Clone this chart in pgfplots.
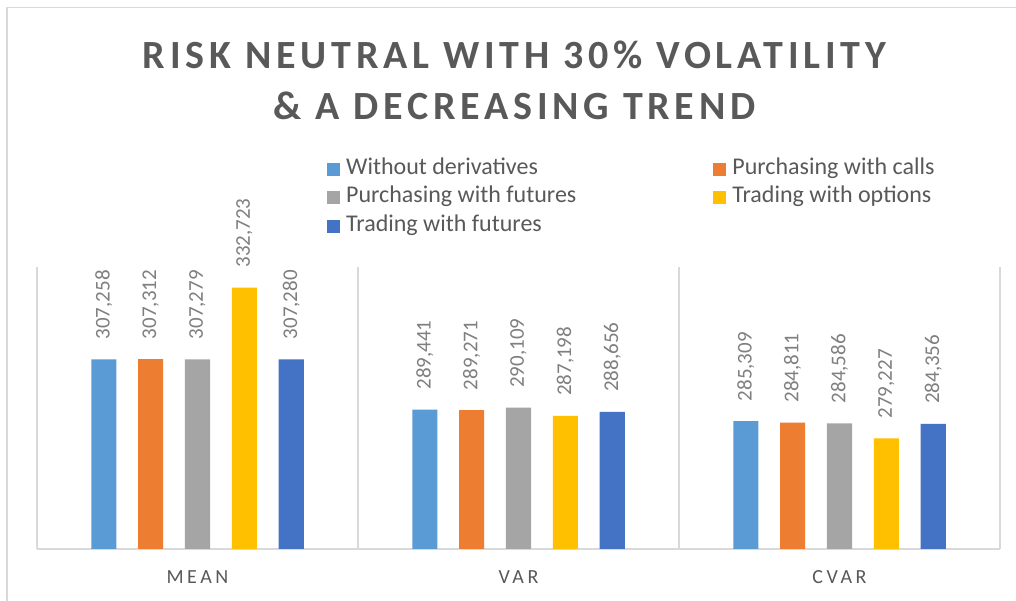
\documentclass[border=0pt]{standalone}
\usepackage{fontspec}
\setmainfont{Carlito}
\usepackage{pgfplots}
\pgfplotsset{compat=1.18}
\definecolor{c1}{HTML}{5B9BD5}
\definecolor{c2}{HTML}{ED7D31}
\definecolor{c3}{HTML}{A5A5A5}
\definecolor{c4}{HTML}{FFC000}
\definecolor{c5}{HTML}{4472C4}
\definecolor{txt}{HTML}{595959}
\definecolor{lbl}{HTML}{7F7F7F}
\definecolor{gridc}{HTML}{D9D9D9}
\pgfplotsset{
  sq/.style={legend image code/.code={\fill[##1,draw=none] (0bp,-6.5bp) rectangle (13bp,6.5bp);}}
}
\begin{document}
\begin{tikzpicture}[x=1bp,y=1bp]
\fill[white] (0,0) rectangle (1016,601);
\path[use as bounding box] (0,0) rectangle (1016,601);
\draw[gridc, line width=1.5bp] (7,0) -- (7,593.5) -- (1016,593.5);
\node[txt, anchor=base, inner sep=0pt, font=\fontsize{40bp}{51bp}\selectfont\bfseries\addfontfeature{LetterSpace=12}] at (514.5,532) {RISK NEUTRAL WITH 30\% VOLATILITY};
\node[txt, anchor=base, inner sep=0pt, font=\fontsize{40bp}{51bp}\selectfont\bfseries\addfontfeature{LetterSpace=12}] at (514.5,481) {\& A DECREASING TREND};
\begin{axis}[
  at={(37bp,52bp)}, anchor=south west, scale only axis,
  width=963bp, height=282bp,
  xmin=-0.5, xmax=2.5, ymin=240000, ymax=340000,
  axis y line=none, axis x line=bottom,
  x axis line style={-, draw=gridc, line width=1.3bp},
  xtick={0,1,2}, xticklabels={MEAN,VAR,CVAR},
  major tick length=0pt,
  minor xtick={-0.5,0.5,1.5,2.5}, xminorgrids,
  minor grid style={draw=gridc, line width=1.3bp},
  minor tick length=0pt,
  xticklabel style={anchor=base, yshift=-35bp, text=txt, font=\fontsize{20bp}{24bp}\selectfont\addfontfeature{LetterSpace=17.7}},
  ybar, bar width=0.078,
  nodes near coords={\pgfmathprintnumber[fixed, precision=0, 1000 sep={,}, assume math mode=true]{\pgfplotspointmeta}},
  every node near coord/.append style={rotate=90, anchor=west, inner sep=0pt, outer xsep=20bp, text=lbl, font=\fontsize{21bp}{25bp}\selectfont},
  legend columns=2,
  legend cell align=left,
  legend style={at={(0.3011,1.383)}, anchor=north west, draw=none, fill=none, inner sep=0pt,
    font=\fontsize{24bp}{28bp}\selectfont, text=txt, row sep=8.7bp,
    /tikz/every even column/.append style={column sep=131bp},
    nodes={inner sep=0pt, inner xsep=6bp, text height=15bp, text depth=5bp}},
]
\addplot[fill=c1, draw=none, bar shift=-0.292, sq] coordinates {(0,307258) (1,289441) (2,285309)};
\addplot[fill=c2, draw=none, bar shift=-0.146, sq] coordinates {(0,307312) (1,289271) (2,284811)};
\addplot[fill=c3, draw=none, bar shift=0, sq] coordinates {(0,307279) (1,290109) (2,284586)};
\addplot[fill=c4, draw=none, bar shift=0.146, sq] coordinates {(0,332723) (1,287198) (2,279227)};
\addplot[fill=c5, draw=none, bar shift=0.292, sq] coordinates {(0,307280) (1,288656) (2,284356)};
\legend{Without derivatives, Purchasing with calls, Purchasing with futures, Trading with options, Trading with futures}
\end{axis}
\end{tikzpicture}
\end{document}
